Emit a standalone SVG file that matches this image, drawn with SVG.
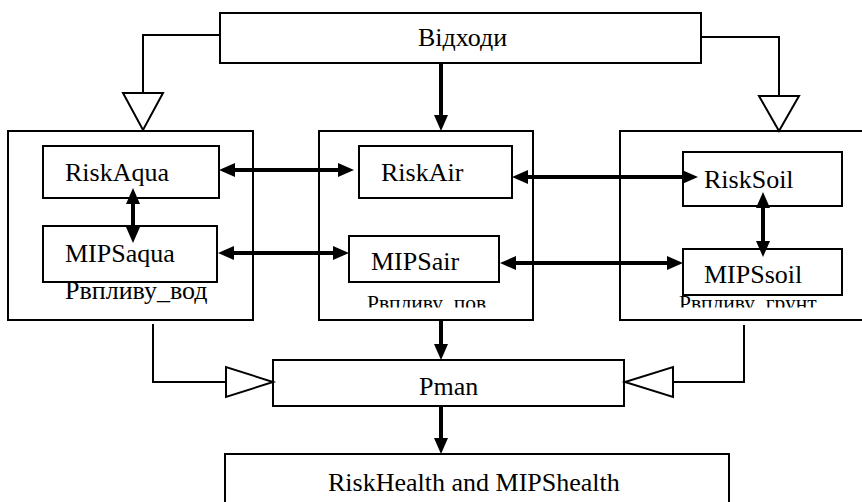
<svg xmlns="http://www.w3.org/2000/svg" width="862" height="502" viewBox="0 0 862 502">
<style>
.box{fill:#fff;stroke:#000;stroke-width:2}
.ln{fill:none;stroke:#000;stroke-width:2}
.thick{fill:none;stroke:#000;stroke-width:4}
.tri{fill:#fff;stroke:#000;stroke-width:2;stroke-linejoin:miter}
text{font-family:'Liberation Serif','Times New Roman',Tinos,'DejaVu Serif',serif;fill:#000}
.t{font-size:26px}
.s{font-size:21.5px}
</style>
<defs>
<marker id="ah" markerUnits="userSpaceOnUse" markerWidth="18" markerHeight="16" refX="0" refY="7" orient="auto-start-reverse" overflow="visible">
<path d="M0,0 L16,7 L0,14 z" fill="#000"/>
</marker>
<clipPath id="cut"><rect x="0" y="0" width="862" height="307.5"/></clipPath>
</defs>
<rect width="862" height="502" fill="#fff"/>
<g id="vidhody"><rect class="box" x="220" y="13" width="481" height="50"/><text class="t" x="418" y="46" font-size="24.5">Відходи</text></g>
<g id="water"><rect class="box" x="8" y="131" width="245" height="189"/><text class="t" x="65" y="299" font-size="24">Рвпливу_вод</text></g>
<g id="air"><rect class="box" x="319" y="131" width="214" height="189"/><text class="s" x="367" y="310" clip-path="url(#cut)">Рвпливу_пов</text></g>
<g id="soil"><rect class="box" x="620" y="131" width="250" height="189"/></g>
<g id="riskaqua"><rect class="box" x="43" y="146" width="176" height="52"/><text class="t" x="65" y="181">RiskAqua</text></g>
<g id="mipsaqua"><rect class="box" x="43" y="226" width="174" height="56"/><text class="t" x="65" y="262">MIPSaqua</text></g>
<g id="riskair"><rect class="box" x="359" y="146" width="153" height="52"/><text class="t" x="381" y="181">RiskAir</text></g>
<g id="mipsair"><rect class="box" x="349" y="236" width="150" height="46"/><text class="t" x="371" y="270">MIPSair</text></g>
<g id="risksoil"><rect class="box" x="683" y="152" width="159" height="54"/><text class="t" x="704" y="188">RiskSoil</text></g>
<g id="mipssoil"><rect class="box" x="683" y="249" width="159" height="46"/><text class="t" x="704" y="283">MIPSsoil</text></g>
<g id="soil-label"><text class="s" x="679" y="310" clip-path="url(#cut)">Рвпливу_грунт</text></g>
<g id="pman"><rect class="box" x="273" y="360" width="351" height="46"/><text class="t" x="419" y="395">Pman</text></g>
<g id="health"><rect class="box" x="225" y="454" width="504" height="60"/><text class="t" x="328" y="491">RiskHealth and MIPShealth</text></g>
<g id="connectors">
<polyline class="ln" points="220,35 143,35 143,93"/>
<polygon class="tri" points="123,93 163,93 143,130"/>
<polyline class="ln" points="701,37 779,37 779,96"/>
<polygon class="tri" points="759,96 799,96 779,131"/>
<polyline class="ln" points="153,324 153,382 226,382"/>
<polygon class="tri" points="226,367 226,397 273,382"/>
<polyline class="ln" points="744,325 744,382 673,382"/>
<polygon class="tri" points="673,367 673,397 625,382"/>
<line class="thick" x1="441" y1="63" x2="441" y2="115" marker-end="url(#ah)"/>
<line class="thick" x1="441" y1="321" x2="441" y2="344" marker-end="url(#ah)"/>
<line class="thick" x1="441" y1="406" x2="441" y2="438" marker-end="url(#ah)"/>
<line class="thick" x1="235" y1="170" x2="338" y2="170" marker-start="url(#ah)" marker-end="url(#ah)"/>
<line class="thick" x1="528" y1="177" x2="682" y2="177" marker-start="url(#ah)" marker-end="url(#ah)"/>
<line class="thick" x1="234" y1="253" x2="333" y2="253" marker-start="url(#ah)" marker-end="url(#ah)"/>
<line class="thick" x1="516" y1="263" x2="667" y2="263" marker-start="url(#ah)" marker-end="url(#ah)"/>
<line class="thick" x1="133" y1="204" x2="133" y2="227" marker-start="url(#ah)" marker-end="url(#ah)"/>
<line class="thick" x1="763" y1="208" x2="763" y2="241" marker-start="url(#ah)" marker-end="url(#ah)"/>
</g>
</svg>
